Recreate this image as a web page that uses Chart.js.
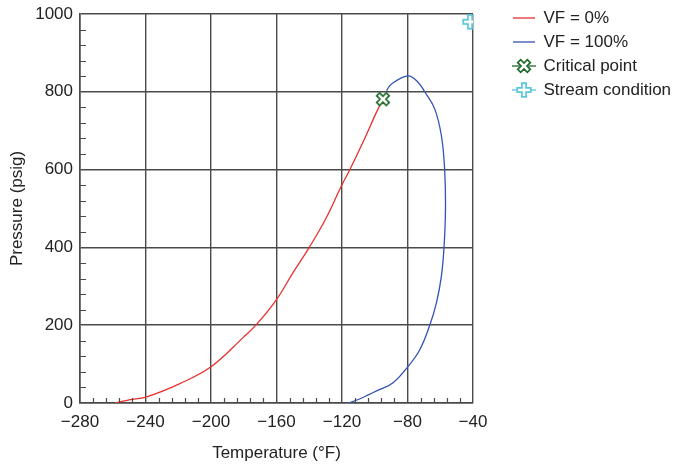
<!DOCTYPE html>
<html>
<head>
<meta charset="utf-8">
<script src="https://cdn.jsdelivr.net/npm/chart.js@4.4.1/dist/chart.umd.min.js"></script>
<style>
  html, body { margin: 0; padding: 0; background: #fff; }
</style>
</head>
<body>
<canvas id="phaseChart" width="684" height="465"></canvas>
<script>
/* phase envelope data */
var vf0Temp = [-258.6, -255.6, -250, -239.3, -219, -200, -180.4, -172.2, -160, -149.9, -139.7, -129.5, -120.4, -115.3, -107.2, -99.0, -95];
var vf0Pres = [0, 3, 8, 16, 50, 93, 168, 202, 266, 335, 402, 477, 558, 599, 670, 747, 781];
var vf100Temp = [-116.2, -110, -102.9, -96.9, -88.8, -80, -72.5, -66.4, -62.3, -59.3, -57.7, -56.8, -57.3, -59.3, -63.4, -69.5, -73.5, -79.6, -89.8, -92.8];
var vf100Pres = [0, 9, 23, 35, 52, 92, 137, 200, 258, 326, 401, 498, 599, 687, 756, 800, 824, 841, 820, 803];
var criticalTemp = [-95];
var criticalPres = [781];
var streamTemp = [-41.8];
var streamPres = [980];
var seriesNames = ["VF = 0%", "VF = 100%", "Critical point", "Stream condition"];
var xTicks = [-280, -240, -200, -160, -120, -80, -40];
var yTicks = [0, 200, 400, 600, 800, 1000];
var xMinorStep = 8;
var yMinorStep = 40;

var FONT = "'Liberation Sans', Arial, sans-serif";
var legendWidth = 178;

function toPoints(xs, ys) {
    var pts = [];
    for (var i = 0; i < xs.length; i++) {
        pts.push({x: xs[i], y: ys[i]});
    }
    return pts;
}

/* hollow cross marker, optionally with a line through it (legend) */
function makeMarker(color, rotate, width) {
    var c = document.createElement("canvas");
    c.width = width;
    c.height = 18;
    var ctx = c.getContext("2d");
    var cx = width / 2, cy = 9;
    if (width > 18) {
        ctx.strokeStyle = color;
        ctx.lineWidth = 1.3;
        ctx.beginPath();
        ctx.moveTo(0, cy);
        ctx.lineTo(width, cy);
        ctx.stroke();
    }
    var a = 2.1, L = 6.8;
    var poly = [[-a, -L], [a, -L], [a, -a], [L, -a], [L, a], [a, a], [a, L], [-a, L], [-a, a], [-L, a], [-L, -a], [-a, -a]];
    ctx.save();
    ctx.translate(cx, cy);
    if (rotate) ctx.rotate(Math.PI / 4);
    ctx.beginPath();
    for (var i = 0; i < poly.length; i++) {
        if (i === 0) ctx.moveTo(poly[i][0], poly[i][1]);
        else ctx.lineTo(poly[i][0], poly[i][1]);
    }
    ctx.closePath();
    ctx.fillStyle = "#ffffff";
    ctx.fill();
    ctx.strokeStyle = color;
    ctx.lineWidth = 1.7;
    ctx.stroke();
    ctx.restore();
    return c;
}

var green = "#1f6a2b";
var cyan = "#58c6de";
var critMarker = makeMarker(green, true, 18);
var streamMarker = makeMarker(cyan, false, 18);
var critLegend = makeMarker(green, true, 24);
var streamLegend = makeMarker(cyan, false, 24);

function fmt(v) {
    return String(v).replace("-", "\u2212");
}

/* minor tick marks pointing into the plot */
var minorTicks = {
    id: "minorTicks",
    afterDatasetsDraw: function (chart) {
        var ctx = chart.ctx;
        var xs = chart.scales.x, ys = chart.scales.y;
        var area = chart.chartArea;
        ctx.save();
        ctx.strokeStyle = "#4a4a4a";
        ctx.lineWidth = 1.2;
        ctx.beginPath();
        for (var v = xs.min; v <= xs.max; v += xMinorStep) {
            if (v % 40 === 0) continue;
            var px = Math.round(xs.getPixelForValue(v)) + 0.5;
            ctx.moveTo(px, area.bottom);
            ctx.lineTo(px, area.bottom - 5);
        }
        for (var w = ys.min; w <= ys.max; w += yMinorStep) {
            if (w % 200 === 0) continue;
            var py = Math.round(ys.getPixelForValue(w)) + 0.5;
            ctx.moveTo(area.left, py);
            ctx.lineTo(area.left + 6, py);
        }
        ctx.stroke();
        ctx.restore();
    }
};

/* the legend column is wider than chart.js lets a side box be by default */
var wideLegend = {
    id: "wideLegend",
    afterInit: function (chart) {
        var legend = chart.legend;
        var fit = legend.fit;
        legend.fit = function () {
            fit.call(this);
            this.width = legendWidth;
        };
    }
};

var ctx = document.getElementById("phaseChart");
var chart = new Chart(ctx, {
    type: "scatter",
    data: {
        datasets: [{
            label: seriesNames[0],
            data: toPoints(vf0Temp, vf0Pres),
            showLine: true,
            borderColor: "#e8302e",
            backgroundColor: "#e8302e",
            borderWidth: 1.3,
            pointRadius: 0,
            tension: 0.4,
            order: 3
        }, {
            label: seriesNames[1],
            data: toPoints(vf100Temp, vf100Pres),
            showLine: true,
            borderColor: "#3453b3",
            backgroundColor: "#3453b3",
            borderWidth: 1.3,
            pointRadius: 0,
            tension: 0.4,
            order: 2
        }, {
            label: seriesNames[2],
            data: toPoints(criticalTemp, criticalPres),
            pointStyle: critMarker,
            pointRadius: 8,
            order: 1
        }, {
            label: seriesNames[3],
            data: toPoints(streamTemp, streamPres),
            pointStyle: streamMarker,
            pointRadius: 8,
            order: 0
        }]
    },
    options: {
        responsive: false,
        animation: false,
        layout: { padding: { top: 0, right: 0, bottom: 0, left: 0 } },
        plugins: {
            tooltip: { enabled: false },
            legend: {
                position: "right",
                align: "start",
                title: {
                    display: true,
                    text: "",
                    padding: 0,
                    font: { size: 2, lineHeight: 1.25 }
                },
                labels: {
                    usePointStyle: true,
                    pointStyleWidth: 22,
                    padding: 7,
                    color: "#222",
                    font: { family: FONT, size: 17 },
                    sort: function (a, b) { return a.datasetIndex - b.datasetIndex; },
                    generateLabels: function (chart) {
                        var items = Chart.defaults.plugins.legend.labels.generateLabels(chart);
                        var styles = ["line", "line", critLegend, streamLegend];
                        items.forEach(function (it) {
                            it.pointStyle = styles[it.datasetIndex];
                            it.lineWidth = 1.3;
                        });
                        return items;
                    }
                }
            }
        },
        scales: {
            x: {
                type: "linear",
                min: -280,
                max: -40,
                afterBuildTicks: function (s) {
                    s.ticks = xTicks.map(function (v) { return {value: v}; });
                },
                afterFit: function (s) { s.height = 62; },
                ticks: {
                    callback: function (v) { return fmt(v); },
                    color: "#222",
                    padding: 9,
                    maxRotation: 0,
                    font: { family: FONT, size: 17 }
                },
                grid: { color: "#4a4a4a", lineWidth: 1.4, drawTicks: false },
                border: { color: "#4a4a4a", width: 1.6 },
                title: {
                    display: true,
                    text: "Temperature (\u00b0F)",
                    color: "#222",
                    padding: { top: 4, bottom: 1 },
                    font: { family: FONT, size: 17 }
                }
            },
            y: {
                type: "linear",
                min: 0,
                max: 1000,
                afterBuildTicks: function (s) {
                    s.ticks = yTicks.map(function (v) { return {value: v}; });
                },
                afterFit: function (s) { s.width = 80; },
                ticks: {
                    callback: function (v) { return fmt(v); },
                    color: "#222",
                    padding: 7,
                    font: { family: FONT, size: 17, lineHeight: 0.82 }
                },
                grid: { color: "#4a4a4a", lineWidth: 1.4, drawTicks: false },
                border: { color: "#4a4a4a", width: 1.6 },
                title: {
                    display: true,
                    text: "Pressure (psig)",
                    color: "#222",
                    padding: { top: 7, bottom: 4 },
                    font: { family: FONT, size: 17 }
                }
            },
            gap: {
                type: "linear",
                position: "right",
                display: true,
                grid: { display: false },
                ticks: { display: false },
                border: { display: false },
                afterFit: function (s) { s.width = 33; }
            }
        }
    },
    plugins: [minorTicks, wideLegend]
});
</script>
</body>
</html>
